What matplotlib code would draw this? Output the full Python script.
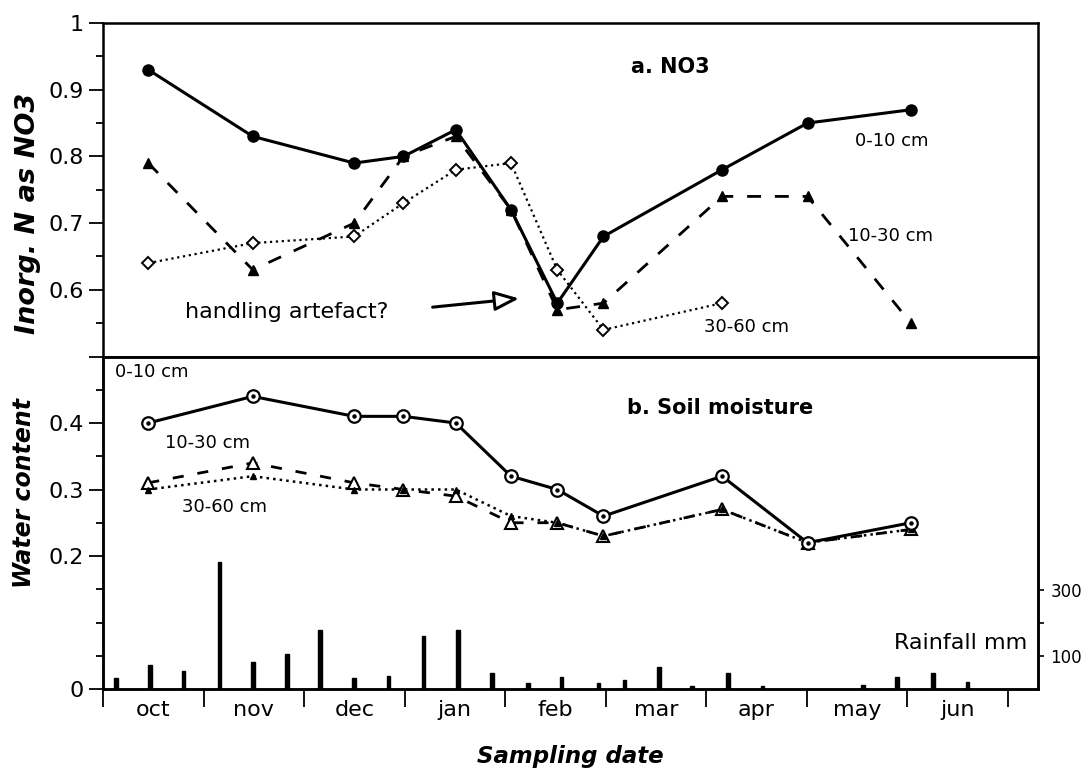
import numpy as np
import matplotlib
matplotlib.use("Agg")
import matplotlib.pyplot as plt
from matplotlib.ticker import FixedLocator, NullFormatter

# ---- data ----
months = ["oct", "nov", "dec", "jan", "feb", "mar", "apr", "may", "jun"]
# sampling dates in month units (0 = 1 Oct)
sample_x = [0.45, 1.49, 2.50, 2.99, 3.51, 4.06, 4.52, 4.98, 6.16, 7.01, 8.04]

no3_0_10 = [0.93, 0.83, 0.79, 0.80, 0.84, 0.72, 0.58, 0.68, 0.78, 0.85, 0.87]
no3_10_30 = [0.79, 0.63, 0.70, 0.80, 0.83, 0.72, 0.57, 0.58, 0.74, 0.74, 0.55]
no3_30_60 = [0.64, 0.67, 0.68, 0.73, 0.78, 0.79, 0.63, 0.54, 0.58, np.nan, np.nan]

wc_0_10 = [0.40, 0.44, 0.41, 0.41, 0.40, 0.32, 0.30, 0.26, 0.32, 0.22, 0.25]
wc_10_30 = [0.31, 0.34, 0.31, 0.30, 0.29, 0.25, 0.25, 0.23, 0.27, 0.22, 0.24]
wc_30_60 = [0.30, 0.32, 0.30, 0.30, 0.30, 0.26, 0.25, 0.23, 0.27, 0.22, 0.24]

rain_x = [0.13, 0.47, 0.80, 1.16, 1.49, 1.83, 2.16, 2.50, 2.84, 3.19, 3.53, 3.87,
          4.23, 4.56, 4.93, 5.19, 5.53, 5.86, 6.22, 6.56, 7.56, 7.90, 8.26, 8.60]
rain_mm = [32, 73, 53, 383, 83, 106, 179, 33, 39, 159, 179, 48,
           18, 37, 18, 27, 68, 10, 48, 10, 12, 37, 48, 22]

plt.rcParams['font.family'] = ['DejaVu Sans']
K = 'black'
W, H = 1088, 775

fig = plt.figure(figsize=(W / 100, H / 100), dpi=100)
L, R = 103, 1038
ax1 = fig.add_axes([L / W, 1 - 356.5 / H, (R - L) / W, 333.5 / H])
ax2 = fig.add_axes([L / W, 1 - 689 / H, (R - L) / W, 332.5 / H])
ax3 = ax2.twinx()

xmax = (R - L) / 100.5
for ax in (ax1, ax2):
    ax.set_xlim(0, xmax)
    for s in ax.spines.values():
        s.set_linewidth(1.8)
for s in ax3.spines.values():
    s.set_linewidth(1.8)

# ---- top panel: NO3 ----
ax1.set_ylim(0.5, 1.0)
ax1.plot(sample_x, no3_0_10, '-', color=K, lw=2.2, marker='o', ms=8, mfc=K, mec=K)
l2, = ax1.plot(sample_x, no3_10_30, '--', color=K, lw=2.0, marker='^', ms=7, mfc=K, mec=K)
l2.set_dashes([5, 5])
ax1.plot(sample_x, no3_30_60, ':', color=K, lw=1.6, marker='D', ms=6, mfc='white', mec=K, mew=1.4)

ax1.yaxis.set_major_locator(FixedLocator([0.5, 0.6, 0.7, 0.8, 0.9, 1.0]))
ax1.set_yticklabels(['', '0.6', '0.7', '0.8', '0.9', '1'])
ax1.yaxis.set_minor_locator(FixedLocator([0.55, 0.65, 0.75, 0.85, 0.95]))
ax1.tick_params(axis='y', which='major', direction='out', length=10, width=1.3,
                labelsize=16, pad=4)
ax1.tick_params(axis='y', which='minor', direction='out', length=5, width=1.3)
ax1.set_xticks([])
ax1.set_ylabel('Inorg. N as NO3', fontsize=19.5, fontweight='bold', style='italic')
ax1.yaxis.set_label_coords(-0.066, 0.43)

ax1.text(5.64, 0.934, 'a. NO3', fontsize=15, fontweight='bold', ha='center', va='center')
ax1.text(7.48, 0.823, '0-10 cm', fontsize=13, ha='left', va='center')
ax1.text(7.41, 0.680, '10-30 cm', fontsize=13, ha='left', va='center')
ax1.text(5.98, 0.544, '30-60 cm', fontsize=13, ha='left', va='center')
ax1.text(1.83, 0.566, 'handling artefact?', fontsize=16, ha='center', va='center')
ax1.annotate('', xy=(4.14, 0.587), xytext=(3.28, 0.574),
             arrowprops=dict(arrowstyle='-|>,head_length=1.5,head_width=0.6',
                             fc='white', ec=K, lw=2.2, mutation_scale=10,
                             shrinkA=0, shrinkB=0))

# ---- bottom panel: soil moisture ----
ax2.set_ylim(0, 0.5)
ax2.plot(sample_x, wc_0_10, '-', color=K, lw=2.2, marker='o', ms=9, mfc='white', mec=K, mew=1.6, zorder=4)
ax2.plot(sample_x, wc_0_10, linestyle='none', marker='o', ms=2.2, color=K, zorder=5)
l5, = ax2.plot(sample_x, wc_10_30, '--', color=K, lw=2.0, marker='^', ms=8, mfc='white', mec=K, mew=1.5, zorder=3)
l5.set_dashes([4, 5])
ax2.plot(sample_x, wc_30_60, ':', color=K, lw=1.8, marker='^', ms=5, mfc=K, mec=K, zorder=3)

ax2.yaxis.set_major_locator(FixedLocator([0, 0.2, 0.3, 0.4]))
ax2.set_yticklabels(['0', '0.2', '0.3', '0.4'])
ax2.yaxis.set_minor_locator(FixedLocator([0.05, 0.1, 0.15, 0.25, 0.35, 0.45]))
ax2.tick_params(axis='y', which='major', direction='out', length=10, width=1.3,
                labelsize=16, pad=4)
ax2.tick_params(axis='y', which='minor', direction='out', length=5, width=1.3)
ax2.set_ylabel('Water content', fontsize=17, fontweight='bold', style='italic')
ax2.yaxis.set_label_coords(-0.072, 0.59)

ax2.xaxis.set_major_locator(FixedLocator(list(range(0, 10))))
ax2.xaxis.set_major_formatter(NullFormatter())
ax2.xaxis.set_minor_locator(FixedLocator([i + 0.5 for i in range(len(months))]))
ax2.set_xticklabels(months, minor=True)
ax2.tick_params(axis='x', which='major', direction='out', length=13, width=1.3)
ax2.tick_params(axis='x', which='minor', length=0, labelsize=16, pad=8)

ax2.text(0.12, 0.476, '0-10 cm', fontsize=13, ha='left', va='center')
ax2.text(0.62, 0.370, '10-30 cm', fontsize=13, ha='left', va='center')
ax2.text(0.79, 0.274, '30-60 cm', fontsize=13, ha='left', va='center')
ax2.text(5.21, 0.423, 'b. Soil moisture', fontsize=15, fontweight='bold', ha='left', va='center')

# rainfall on right axis
ax3.set_ylim(0, 1006)
ax3.bar(rain_x, rain_mm, width=0.035, color=K, edgecolor=K, zorder=2)
ax3.set_yticks([100, 200, 300])
ax3.set_yticklabels(['100', '', '300'])
ax3.tick_params(axis='y', direction='out', length=4, width=1.2, labelsize=12, pad=5)
ax3.text(9.20, 140, 'Rainfall mm', fontsize=16, ha='right', va='center')

fig.text(570 / W, 1 - 757 / H, 'Sampling date', fontsize=16.5, fontweight='bold',
         style='italic', ha='center', va='center')

fig.savefig('out.png', dpi=100)
